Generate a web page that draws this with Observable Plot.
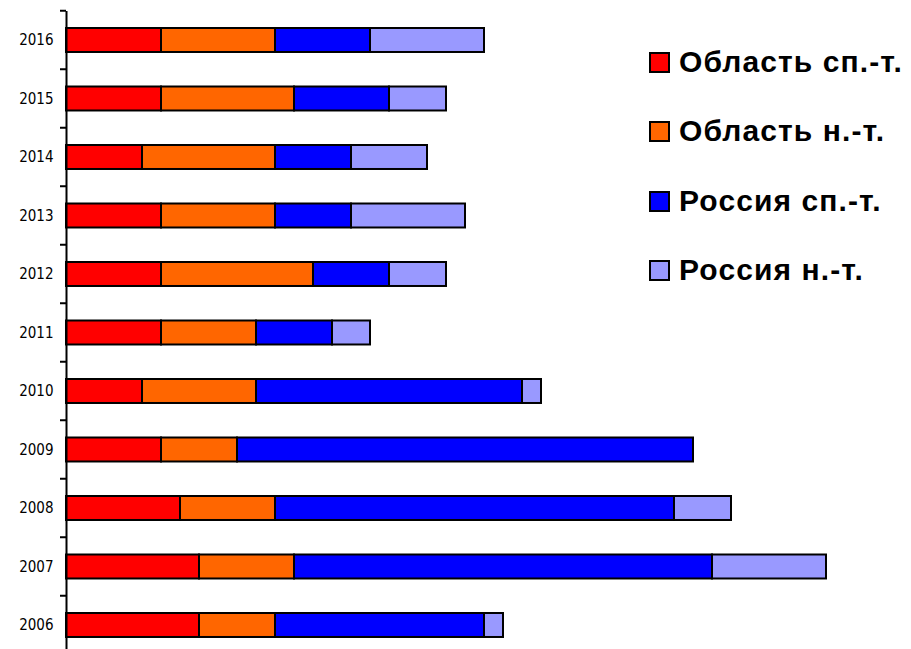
<!DOCTYPE html>
<html>
<head>
<meta charset="utf-8">
<script src="https://cdn.jsdelivr.net/npm/d3@7"></script>
<script src="https://cdn.jsdelivr.net/npm/@observablehq/plot@0.6"></script>
<style>
  html, body { margin: 0; padding: 0; background: #fff; }
  #wrap { position: relative; width: 911px; height: 649px; }
  #legend { position: absolute; left: 649px; top: 0; font-family: "Liberation Sans", Arial, sans-serif; font-weight: bold; font-size: 30px; letter-spacing: 1.1px; color: #000; }
  .item { position: absolute; left: 0; display: flex; align-items: center; white-space: nowrap; }
  .sw { width: 17px; height: 17px; border: 2px solid #000; margin-right: 9px; flex: none; }
</style>
</head>
<body>
<div id="wrap"><div id="legend"></div></div>
<script>
const years = [2006, 2007, 2008, 2009, 2010, 2011, 2012, 2013, 2014, 2015, 2016];
const seriesNames = ["Область сп.-т.", "Область н.-т.", "Россия сп.-т.", "Россия н.-т."];
const seriesColors = ["#ff0000", "#ff6600", "#0000ff", "#9999ff"];
const oblastSp = [7, 7, 6, 5, 4, 5, 5, 5, 4, 5, 5];
const oblastNt = [4, 5, 5, 4, 6, 5, 8, 6, 7, 7, 6];
const russiaSp = [11, 22, 21, 24, 14, 4, 4, 4, 4, 5, 5];
const russiaNt = [1, 6, 3, 0, 1, 2, 3, 6, 4, 3, 6];
const legendCenters = [62, 131, 201, 270];

const seriesValues = [oblastSp, oblastNt, russiaSp, russiaNt];
const rows = [];
years.forEach((yr, i) => {
  seriesNames.forEach((s, k) => rows.push({year: yr, series: s, value: seriesValues[k][i]}));
});

function boundaryTicks(index, scales, values, dimensions) {
  const y = scales.y, x = scales.x;
  const bw = y.bandwidth();
  const step = typeof y.step === "function" ? y.step() : bw;
  const dom = y.domain();
  const bounds = dom.map(d => y(d) - (step - bw) / 2);
  bounds.push(y(dom[dom.length - 1]) + bw + (step - bw) / 2);
  const g = d3.create("svg:g");
  g.selectAll("line").data(bounds).join("line")
    .attr("x1", x(0) - 6).attr("x2", x(0))
    .attr("y1", d => d).attr("y2", d => d)
    .attr("stroke", "#000").attr("stroke-width", 2);
  return g.node();
}

const chart = Plot.plot({
  width: 911,
  height: 649,
  marginLeft: 66,
  marginRight: 85,
  marginTop: 11,
  marginBottom: 0,
  style: {fontFamily: "'DejaVu Sans Condensed', 'DejaVu Sans', sans-serif", fontSize: "15px", background: "#fff"},
  x: {domain: [0, 40], axis: null, round: false},
  y: {domain: years.slice().reverse(), round: false, paddingInner: 0.59, paddingOuter: 0.248, align: 0.586, label: null, tickSize: 0, tickPadding: 13, tickFormat: d => String(d)},
  color: {domain: seriesNames, range: seriesColors},
  marks: [
    Plot.barX(rows, Plot.stackX({x: "value", y: "year", fill: "series", order: seriesNames, stroke: "#000", strokeWidth: 2})),
    Plot.ruleX([0], {stroke: "#000", strokeWidth: 2}),
    boundaryTicks
  ]
});
document.getElementById("wrap").prepend(chart);

const legend = document.getElementById("legend");
seriesNames.forEach((s, k) => {
  const it = document.createElement("div");
  it.className = "item";
  it.style.top = (legendCenters[k] - 18) + "px";
  it.style.height = "36px";
  const sw = document.createElement("span");
  sw.className = "sw";
  sw.style.background = seriesColors[k];
  const t = document.createElement("span");
  t.textContent = s;
  it.appendChild(sw); it.appendChild(t);
  legend.appendChild(it);
});
</script>
</body>
</html>
